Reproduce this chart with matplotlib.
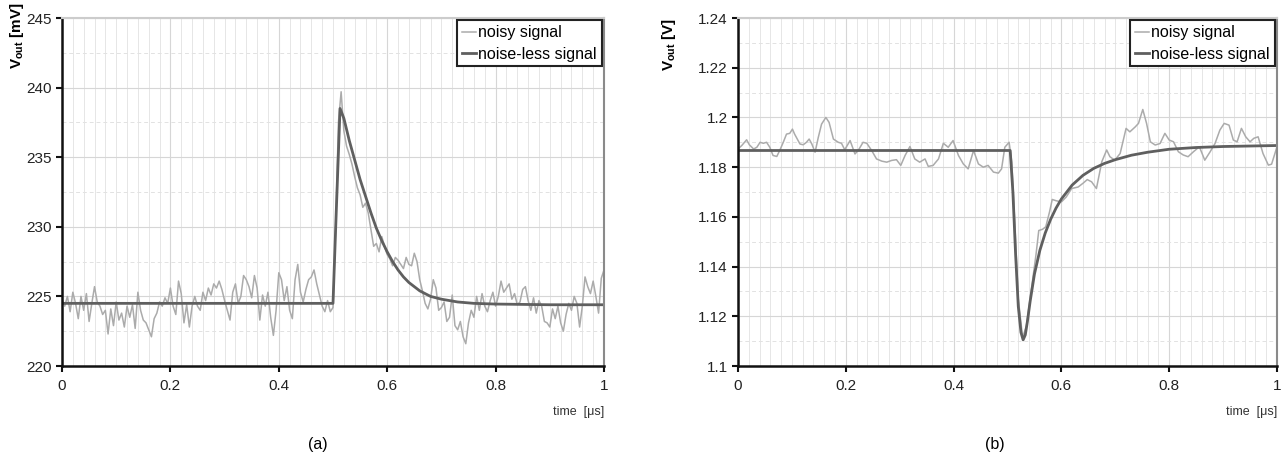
import numpy as np
import matplotlib
matplotlib.use("Agg")
import matplotlib.pyplot as plt
from matplotlib.ticker import MultipleLocator

plt.rcParams['font.family'] = ['Liberation Sans', 'DejaVu Sans']

# ---------------- (a) data ----------------
a_noisy_v = [
    224.8, 224.3, 225.0, 223.9, 225.3, 224.5, 223.4, 225.0, 224.0, 225.2,
    223.2, 224.5, 225.7, 224.6, 224.3, 223.7, 224.0, 222.3, 224.1, 222.9,
    224.6, 223.3, 223.8, 222.8, 224.3, 223.5, 224.4, 222.7, 225.3, 224.0,
    223.3, 223.1, 222.6, 222.1, 223.4, 223.8, 224.6, 224.3, 224.9, 224.5,
    225.6, 224.3, 223.7, 226.1, 225.2, 223.1, 224.4, 222.8, 224.3, 225.0,
    224.3, 224.0, 225.3, 224.7,
    225.6, 225.1, 225.9, 225.6, 226.1, 225.5, 224.7, 224.0, 223.3, 225.3,
    225.9, 224.5, 225.0, 226.5, 226.2, 225.7, 224.9, 226.5, 225.6, 223.3,
    225.1, 224.3, 225.3, 223.5, 222.2, 224.0, 226.7, 226.2, 224.7, 225.7,
    224.0, 223.4, 226.2, 227.3, 225.3, 224.6, 225.5, 226.2, 226.4, 226.9,
    225.9, 225.1, 224.3, 223.9, 224.7,
    223.9, 224.2,
    230.0, 237.5, 239.7, 236.9, 235.8, 235.2, 234.5, 233.6, 232.8, 232.3,
    231.4, 231.7, 231.0, 229.8, 228.6, 228.8, 228.2, 229.3, 228.6, 228.0,
    227.7, 227.2, 227.8, 227.6, 227.3, 227.0, 227.8, 227.3, 227.2, 228.1,
    227.5, 226.2, 225.4, 224.5, 224.1, 224.8, 226.2, 225.6, 224.0, 224.2,
    224.6, 223.2, 223.5, 225.1, 222.9, 222.6, 223.2, 222.1, 221.6, 223.1,
    224.0, 223.5, 225.0, 224.0, 225.2, 224.3, 223.9, 224.7, 225.3, 224.3,
    225.0, 226.1, 225.3, 225.6, 225.9, 224.8, 225.2, 224.4, 224.6, 225.5,
    225.7, 224.7, 224.0, 224.9, 223.8, 224.7, 224.3, 223.2, 223.1, 222.8,
    224.1, 223.4, 224.3, 223.1, 222.5, 223.7, 224.5, 224.0, 225.0, 224.5,
    222.8, 224.3, 226.4, 225.7, 225.2, 226.1, 225.0, 223.8, 226.3, 226.9,
]
a_noisy_t = np.linspace(0.0, 1.0, len(a_noisy_v))  # uniform 5 ns sampling

a_clean_t = [0.0, 0.5, 0.505, 0.513, 0.52, 0.53, 0.54, 0.55, 0.56, 0.57, 0.58,
             0.59, 0.60, 0.61, 0.62, 0.63, 0.64, 0.66, 0.68, 0.70, 0.73, 0.76,
             0.80, 0.90, 1.0]
a_clean_v = [224.5, 224.5, 230.0, 238.5, 237.8, 236.2, 234.8, 233.4, 232.2, 231.0,
             229.9, 229.0, 228.2, 227.5, 226.9, 226.4, 226.0, 225.4, 225.0, 224.8,
             224.6, 224.5, 224.45, 224.4, 224.4]

# ---------------- (b) data ----------------
b_noisy_t = [
    0.0, 0.007, 0.016, 0.021, 0.029, 0.035, 0.041, 0.047, 0.053, 0.059,
    0.065, 0.072, 0.078, 0.084, 0.090, 0.096, 0.101, 0.105, 0.115, 0.121,
    0.127, 0.132, 0.137, 0.143, 0.149, 0.155, 0.163, 0.169, 0.177, 0.186,
    0.192, 0.198, 0.208, 0.217, 0.223, 0.232, 0.239, 0.248, 0.257, 0.267,
    0.276, 0.285, 0.294, 0.302, 0.310, 0.319, 0.328, 0.337, 0.347, 0.353,
    0.362, 0.372, 0.381, 0.390, 0.399, 0.409, 0.418, 0.427, 0.437, 0.446,
    0.455, 0.464, 0.474, 0.483, 0.489, 0.495, 0.503, 0.508, 0.513, 0.52,
    0.528, 0.535, 0.545, 0.553, 0.558, 0.565, 0.571, 0.578, 0.583, 0.59,
    0.6, 0.609, 0.619, 0.631, 0.64, 0.648, 0.656, 0.665, 0.675, 0.684,
    0.69, 0.699, 0.709, 0.72, 0.727, 0.737, 0.743, 0.751, 0.758, 0.765,
    0.774, 0.783, 0.792, 0.8, 0.808, 0.817, 0.826, 0.835, 0.845, 0.856,
    0.866, 0.876, 0.885, 0.894, 0.902, 0.911, 0.919, 0.926, 0.934, 0.942,
    0.95, 0.957, 0.965, 0.974, 0.984, 0.99, 1.0,
]
b_noisy_v = [
    1.1873, 1.1887, 1.1910, 1.1890, 1.1873, 1.1880, 1.1900, 1.1896, 1.1900, 1.1880,
    1.1847, 1.1843, 1.1870, 1.1900, 1.1933, 1.1936, 1.1953, 1.1933, 1.1893, 1.1890,
    1.1900, 1.1913, 1.1893, 1.1860, 1.1920, 1.1973, 1.2000, 1.1980, 1.1913, 1.1900,
    1.1896, 1.1870, 1.1907, 1.1853, 1.1867, 1.1900, 1.1896, 1.1867, 1.1833, 1.1824,
    1.1820, 1.1827, 1.1830, 1.1807, 1.1847, 1.1883, 1.1833, 1.1820, 1.1833, 1.1803,
    1.1807, 1.1833, 1.1896, 1.1880, 1.1907, 1.1847, 1.1813, 1.1793, 1.1867, 1.1813,
    1.1800, 1.1807, 1.1780, 1.1776, 1.1793, 1.1880, 1.1900, 1.1820, 1.1600, 1.1270,
    1.1115, 1.1160, 1.1320, 1.1450, 1.1545, 1.1550, 1.1560, 1.1620, 1.1670, 1.1665,
    1.1660, 1.1680, 1.1714, 1.1720, 1.1735, 1.1750, 1.1741, 1.1714, 1.1822, 1.1869,
    1.1842, 1.1828, 1.1855, 1.1956, 1.1942, 1.1962, 1.1976, 1.2032, 1.1976, 1.1902,
    1.1889, 1.1895, 1.1936, 1.1909, 1.1902, 1.1862, 1.1849, 1.1842, 1.1862, 1.1882,
    1.1828, 1.1862, 1.1895, 1.1949, 1.1976, 1.1969, 1.1909, 1.1902, 1.1956, 1.1922,
    1.1902, 1.1916, 1.1922, 1.1855, 1.1808, 1.1812, 1.1882,
]

b_clean_t = [0.0, 0.505, 0.51, 0.515, 0.52, 0.525, 0.529, 0.533, 0.537, 0.542,
             0.55, 0.56, 0.57, 0.58, 0.59, 0.60, 0.62, 0.64, 0.66, 0.68, 0.70,
             0.73, 0.76, 0.80, 0.85, 0.90, 1.0]
b_clean_v = [1.1867, 1.1867, 1.170, 1.145, 1.124, 1.1135, 1.1105, 1.1125, 1.118, 1.126,
             1.137, 1.1465, 1.1535, 1.159, 1.1635, 1.1672, 1.1728, 1.1767, 1.1795, 1.1815,
             1.183, 1.1848, 1.186, 1.1872, 1.1879, 1.1883, 1.1887]

NOISY_C = '#ababab'
CLEAN_C = '#5f5f5f'

fig = plt.figure(figsize=(12.85, 4.62), dpi=100)
axA = fig.add_axes([62/1285, 1-366/462, (604-62)/1285, 348/462])
axB = fig.add_axes([738/1285, 1-366/462, (1277-738)/1285, 348/462])


def style(ax, ylim, ymaj, ymin, yfmt):
    ax.set_xlim(0, 1)
    ax.set_ylim(*ylim)
    ax.xaxis.set_major_locator(MultipleLocator(0.2))
    ax.xaxis.set_minor_locator(MultipleLocator(0.02))
    ax.yaxis.set_major_locator(MultipleLocator(ymaj))
    ax.yaxis.set_minor_locator(MultipleLocator(ymin))
    ax.grid(which='major', color='#d6d6d6', lw=0.8)
    ax.grid(which='minor', axis='x', color='#e6e6e6', lw=0.7)
    ax.grid(which='minor', axis='y', color='#e2e2e2', lw=0.7, ls=(0, (4, 3)))
    ax.set_axisbelow(True)
    for s in ('left', 'bottom'):
        ax.spines[s].set_color('#111111')
        ax.spines[s].set_linewidth(1.8)
    ax.spines['top'].set_color('#cccccc')
    ax.spines['top'].set_linewidth(1.5)
    ax.spines['right'].set_color('#8a8a8a')
    ax.spines['right'].set_linewidth(1.5)
    ax.tick_params(which='major', direction='out', length=4, width=1.5,
                   labelsize=11, colors='#111111', labelcolor='#222222')
    ax.tick_params(which='minor', length=0)
    ax.tick_params(axis='x', pad=5)
    ax.xaxis.set_major_formatter(plt.FuncFormatter(lambda v, p: f'{v:g}'))
    ax.yaxis.set_major_formatter(plt.FuncFormatter(yfmt))


style(axA, (220, 245), 5, 2.5, lambda v, p: f'{v:g}')
style(axB, (1.1, 1.24), 0.02, 0.01, lambda v, p: f'{v:.2f}'.rstrip('0').rstrip('.') if v else '0')

for ax, (nt, nv, ct, cv) in zip(
        (axA, axB),
        ((a_noisy_t, a_noisy_v, a_clean_t, a_clean_v),
         (b_noisy_t, b_noisy_v, b_clean_t, b_clean_v))):
    ax.plot(nt, nv, color=NOISY_C, lw=1.1, label='noisy signal')
    ax.plot(ct, cv, color=CLEAN_C, lw=2.0, label='noise-less signal')
    leg = ax.legend(loc='upper right', bbox_to_anchor=(1.0, 1.0), fontsize=11.5,
                    frameon=True, fancybox=False, framealpha=1,
                    handlelength=0.9, handletextpad=0.15, borderpad=0.3,
                    labelspacing=0.4, borderaxespad=0.15)
    leg.get_frame().set_edgecolor('#222222')
    leg.get_frame().set_linewidth(1.5)
    ax.text(1.0, -0.115, 'time  [μs]', transform=ax.transAxes, ha='right',
            va='top', fontsize=9, color='#333333')

axA.set_ylabel('V$_{\\mathregular{out}}$ [mV]', fontsize=11, fontweight='bold',
               loc='top')
axA.yaxis.set_label_coords(-36/542, 1.045)
axB.set_ylabel('V$_{\\mathregular{out}}$ [V]', fontsize=11, fontweight='bold',
               loc='top')
axB.yaxis.set_label_coords(-60/539, 1.0)

fig.text(318/1285, 1-445/462, '(a)', ha='center', va='center', fontsize=11.5)
fig.text(995/1285, 1-445/462, '(b)', ha='center', va='center', fontsize=11.5)

fig.savefig('out.png', dpi=100, facecolor='white')
